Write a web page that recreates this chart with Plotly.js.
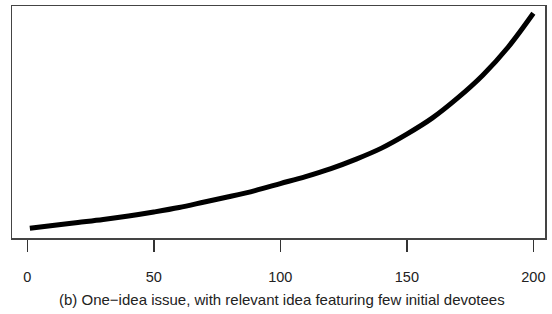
<!DOCTYPE html>
<html>
<head>
<meta charset="utf-8">
<script src="https://cdn.plot.ly/plotly-3.0.1.min.js"></script>
<style>html,body{margin:0;padding:0;background:#fff;}#chart{width:552px;height:314px;}</style>
</head>
<body>
<div id="chart"></div>
<script>
// Time step (x) and level of the relevant idea (arbitrary units)
const steps  = [1, 10, 20, 30, 40, 50, 60, 70, 80, 90, 100, 110, 120, 130, 140, 150, 160, 170, 180, 190, 200];
const level  = [9.7, 12.5, 15.5, 18.5, 22, 26, 30.5, 36, 41.5, 47.5, 54.5, 61.5, 69.5, 79, 90, 104, 120, 140, 163, 191, 225];
const xTicks = [0, 50, 100, 150, 200];
const xTickLabels = ["0", "50", "100", "150", "200"];
const caption = "(b) One\u2212idea issue, with relevant idea featuring few initial devotees";

const trace = {
  x: steps, y: level, type: "scatter", mode: "lines",
  line: {color: "#000", width: 5, shape: "spline", smoothing: 1},
  hoverinfo: "skip"
};

const layout = {
  width: 552, height: 314,
  margin: {l: 12, r: 7, t: 6, b: 76},
  paper_bgcolor: "#fff", plot_bgcolor: "#fff",
  showlegend: false,
  font: {family: "Liberation Sans, Arial, sans-serif", color: "#222"},
  xaxis: {
    range: [-6.05, 204.6], showgrid: false, zeroline: false,
    showline: true, mirror: true, linecolor: "#444", linewidth: 1.5,
    tickmode: "array", tickvals: xTicks, ticktext: xTickLabels,
    ticks: "outside", ticklen: 12, tickwidth: 1.5, tickcolor: "#333",
    ticklabelstandoff: 13,
    tickfont: {size: 14.5, color: "#222"}
  },
  yaxis: {
    range: [0, 232.3], showgrid: false, zeroline: false,
    showline: true, mirror: true, linecolor: "#444", linewidth: 1.5,
    showticklabels: false, ticks: ""
  },
  annotations: [{
    text: caption, xref: "paper", yref: "paper",
    x: 0.5075, y: -0.267, xanchor: "center", yanchor: "middle",
    showarrow: false, font: {size: 15, color: "#222"}
  }]
};

Plotly.newPlot("chart", [trace], layout, {displayModeBar: false, staticPlot: true});
</script>
</body>
</html>
